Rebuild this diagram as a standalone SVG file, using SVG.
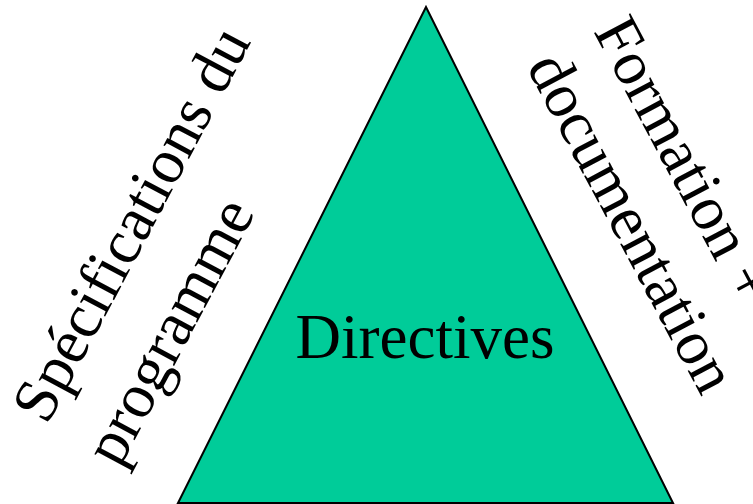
<svg xmlns="http://www.w3.org/2000/svg" width="753" height="504" viewBox="0 0 753 504">
<style>
.t{font-family:"Liberation Serif","Times New Roman",serif;font-size:63px;fill:#000}
</style>
<rect width="753" height="504" fill="#fff"/>
<g id="triangle">
<polygon points="426,7 178,503 673,503" fill="#00CC99" stroke="#000" stroke-width="2"/>
<text class="t" x="425" y="358" text-anchor="middle">Directives</text>
</g>
<g id="left-label">
<text class="t" transform="translate(47,426) rotate(-62)"><tspan x="0" y="0">Spécifications du</tspan><tspan x="-4" y="84">programme</tspan></text>
</g>
<g id="right-label">
<text class="t" transform="translate(593,31) rotate(62)"><tspan x="0" y="0">Formation +</tspan><tspan x="0" y="76">documentation</tspan></text>
</g>
<g id="connectors"></g>
</svg>
